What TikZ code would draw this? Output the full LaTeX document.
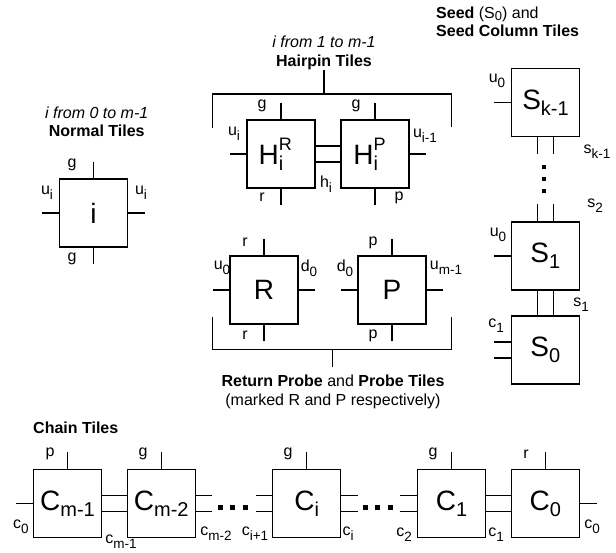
\documentclass[tikz,border=0pt]{standalone}
\usepackage{fontspec}
\setmainfont{Liberation Sans}
\usetikzlibrary{calc}
\newcommand\lo[1]{\raisebox{-0.3em}{\fontsize{13.5}{13.5}\selectfont #1}}
\newcommand\slo[1]{\raisebox{-0.12em}{\fontsize{13}{13}\selectfont #1}}
\newcommand\tlo[1]{\raisebox{-0.22em}{\fontsize{20}{20}\selectfont #1}}
\newcommand\hup[1]{\rlap{\raisebox{0.5em}{\fontsize{18}{18}\selectfont #1}}}
\tikzset{
  tile/.style={draw, line width=1.3pt, minimum width=68pt, minimum height=68pt, inner sep=0pt, font=\fontsize{28}{28}\selectfont},
  lbl/.style={inner sep=0pt, font=\fontsize{16}{16}\selectfont},
  ttl/.style={inner sep=0pt, font=\fontsize{16}{18.5}\selectfont, align=center},
  wire/.style={line width=1.3pt},
  dot/.style={fill=black},
}
\begin{document}
\begin{tikzpicture}[x=1pt,y=-1pt]
\useasboundingbox (0,0) rectangle (616,552);

% ---------- Normal tile ----------
\node[ttl] (tN) at (96.7,122) {\textit{i from 0 to m-1}\\\textbf{Normal Tiles}};
\node[tile] (N) at (93.5,213) {i};
\draw[wire] (N.north) -- ++(0,-16.5);
\draw[wire] (N.south) -- ++(0,16.5);
\draw[wire] (N.west) -- ++(-16.5,0);
\draw[wire] (N.east) -- ++(16.5,0);
\node[lbl] (nl1) at (72,165) {g};
\node[lbl] (nl2) at (72,259) {g};
\node[lbl] (nl3) at (47,193) {u\lo{i}};
\node[lbl] (nl4) at (141,193) {u\lo{i}};

% ---------- Hairpin tiles ----------
\node[ttl] (tH) at (324,53) {\textit{i from 1 to m-1}\\\textbf{Hairpin Tiles}};
\node[tile] (HR) at (281,154) {H\hup{R}\tlo{i}\phantom{R}};
\node[tile] (HP) at (375,154) {H\hup{P}\tlo{i}\phantom{P}};
\draw[wire] (HR.north) -- ++(0,-16.5);
\draw[wire] (HR.south) -- ++(0,16.5);
\draw[wire] (HR.west) -- ++(-16.5,0);
\draw[wire] (HP.north) -- ++(0,-16.5);
\draw[wire] (HP.south) -- ++(0,16.5);
\draw[wire] (HP.east) -- ++(16.5,0);
\draw[wire] ($(HR.east)+(0,-8)$) -- ($(HP.west)+(0,-8)$);
\draw[wire] ($(HR.east)+(0,8)$) -- ($(HP.west)+(0,8)$);
\coordinate (hb) at (324,94);
\draw[wire] (212.7,127.7) -- (212.7,94) -- (451.7,94) -- (451.7,126.7);
\draw[wire] (hb) -- (tH.south);
\node[lbl] (hl1) at (262,106) {g};
\node[lbl] (hl2) at (234,134) {u\lo{i}};
\node[lbl] (hl3) at (262,197) {r};
\node[lbl] (hl4) at (326,184) {h\lo{i}};
\node[lbl] (hl5) at (356,106) {g};
\node[lbl] (hl6) at (399,198) {p};
\node[lbl] (hl7) at (425,136) {u\lo{i-1}};

% ---------- Return probe and probe tiles ----------
\node[tile] (R) at (264,290) {R};
\node[tile] (P) at (392,290) {P};
\foreach \t in {R,P}{
  \draw[wire] (\t.north) -- ++(0,-16.5);
  \draw[wire] (\t.south) -- ++(0,16.5);
  \draw[wire] (\t.west) -- ++(-16.5,0);
  \draw[wire] (\t.east) -- ++(16.5,0);
}
\node[lbl] (rl1) at (245,242) {r};
\node[lbl] (rl2) at (245,335) {r};
\node[lbl] (rl3) at (222,268) {u\lo{0}};
\node[lbl] (rl4) at (309,268) {d\lo{0}};
\node[lbl] (pl1) at (373,243) {p};
\node[lbl] (pl2) at (373,336) {p};
\node[lbl] (pl3) at (345,268) {d\lo{0}};
\node[lbl] (pl4) at (446,268) {u\lo{m-1}};
\coordinate (rb) at (332.7,349.3);
\draw[wire] (212.7,316.7) -- (212.7,349.3) -- (451.3,349.3) -- (451.3,316.7);
\node[ttl] (tR) at (333,392) {\textbf{Return Probe} and \textbf{Probe Tiles}\\(marked R and P respectively)};
\draw[wire] (rb) -- ++(0,17.4);

% ---------- Seed column ----------
\node[ttl, align=left, anchor=west] (tS) at (436,22) {\textbf{Seed} (S\slo{0}) and\\\textbf{Seed Column Tiles}};
\node[tile] (SK) at (545.5,102.5) {S\tlo{k-1}};
\node[tile] (S1) at (545.3,256) {S\tlo{1}};
\node[tile] (S0) at (545.3,350) {S\tlo{0}};
\draw[wire] (SK.west) -- ++(-17,0);
\draw[wire] (S1.west) -- ++(-17,0);
\draw[wire] ($(SK.south)+(-8,0)$) -- ++(0,17);
\draw[wire] ($(SK.south)+(8,0)$) -- ++(0,17);
\draw[wire] ($(S1.north)+(-8,0)$) -- ++(0,-17);
\draw[wire] ($(S1.north)+(8,0)$) -- ++(0,-17);
\draw[wire] ($(S1.south)+(-8,0)$) -- ($(S0.north)+(-8,0)$);
\draw[wire] ($(S1.south)+(8,0)$) -- ($(S0.north)+(8,0)$);
\draw[wire] ($(S0.west)+(0,-8)$) -- ++(-17,0);
\draw[wire] ($(S0.west)+(0,8)$) -- ++(-17,0);
\foreach \yy in {166.7,179,190.7}{\fill[dot] (542,\yy-2) rectangle ++(4,4);}
\node[lbl] (sl1) at (497,81) {u\lo{0}};
\node[lbl] (sl2) at (597,152) {s\lo{k-1}};
\node[lbl] (sl3) at (595,206) {s\lo{2}};
\node[lbl] (sl4) at (498,235) {u\lo{0}};
\node[lbl] (sl5) at (581,305) {s\lo{1}};
\node[lbl] (sl6) at (496,326) {c\lo{1}};

% ---------- Chain tiles ----------
\node[ttl, anchor=west] (tC) at (33,428) {\textbf{Chain Tiles}};
\node[tile] (Cm1) at (67.5,503.5) {C\tlo{m-1}};
\node[tile] (Cm2) at (161.2,503.5) {C\tlo{m-2}};
\node[tile] (Ci)  at (306.7,503.5) {C\tlo{i}};
\node[tile] (C1)  at (451.5,503.5) {C\tlo{1}};
\node[tile] (C0)  at (545.2,503.5) {C\tlo{0}};
\foreach \t in {Cm1,Cm2,Ci,C1,C0}{\draw[wire] (\t.north) -- ++(0,-16.5);}
\draw[wire] (Cm1.west) -- ++(-17,0);
\draw[wire] (C0.east) -- ++(17,0);
\foreach \s in {-8,8}{
  \draw[wire] ($(Cm1.east)+(0,\s)$) -- ($(Cm2.west)+(0,\s)$);
  \draw[wire] ($(C1.east)+(0,\s)$) -- ($(C0.west)+(0,\s)$);
  \draw[wire] ($(Cm2.east)+(0,\s)$) -- ++(16.5,0);
  \draw[wire] ($(Ci.west)+(0,\s)$) -- ++(-16.5,0);
  \draw[wire] ($(Ci.east)+(0,\s)$) -- ++(16.5,0);
  \draw[wire] ($(C1.west)+(0,\s)$) -- ++(-16.5,0);
}
\foreach \xx in {220,232.5,245,365,377.5,390}{\fill[dot] (\xx-2.5,505) rectangle ++(5,5);}
\node[lbl] (cl1) at (50,454) {p};
\node[lbl] (cl2) at (143,454) {g};
\node[lbl] (cl3) at (288,454) {g};
\node[lbl] (cl4) at (433,454) {g};
\node[lbl] (cl5) at (526,454) {r};
\node[lbl] (cb1) at (21,527) {c\lo{0}};
\node[lbl] (cb2) at (121,542) {c\lo{m-1}};
\node[lbl] (cb3) at (216,534) {c\lo{m-2}};
\node[lbl] (cb4) at (255,534) {c\lo{i+1}};
\node[lbl] (cb5) at (348,534) {c\lo{i}};
\node[lbl] (cb6) at (404,535) {c\lo{2}};
\node[lbl] (cb7) at (496,535) {c\lo{1}};
\node[lbl] (cb8) at (592,527) {c\lo{0}};
\end{tikzpicture}
\end{document}
